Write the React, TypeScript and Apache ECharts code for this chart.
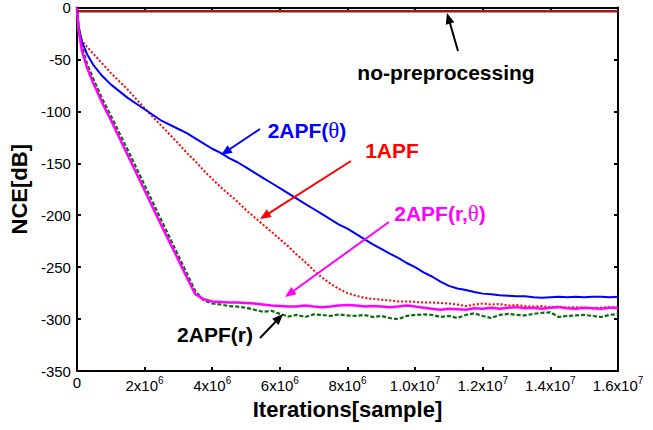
import React, { useEffect, useRef } from 'react';
import * as echarts from 'echarts';

// Iterations in units of 1e6 samples
const ITER_M = [
  0, 0.05, 0.15, 0.3, 0.5, 0.75, 1, 1.5, 2, 2.5, 3, 3.25, 3.5, 3.75,
  4, 4.25, 4.5, 4.75, 5, 5.25, 5.5, 5.75,
  6, 6.25, 6.5, 6.75, 7, 7.25, 7.5, 7.75,
  8, 8.25, 8.5, 8.75, 9, 9.25, 9.5, 9.75,
  10, 10.25, 10.5, 10.75, 11, 11.25, 11.5, 11.75,
  12, 12.25, 12.5, 12.75, 13, 13.25, 13.5, 13.75,
  14, 14.25, 14.5, 14.75, 15, 15.25, 15.5, 15.75,
  16,
];

const APF2_RT = [
  0, -22, -42, -58, -74, -92, -108, -142, -176, -210, -243, -260, -276, -281,
  -283, -283.5, -284, -284, -284.5, -285, -286, -287,
  -287.5, -288, -288, -287, -288, -288.5, -288, -287,
  -286.5, -287, -288, -287.5, -288, -288.5, -288, -287,
  -288, -289, -290, -291, -290, -290.5, -291, -289.5,
  -290, -289, -290, -289, -288.5, -289.5, -289, -290,
  -289, -288.5, -289.5, -290, -289, -289.5, -290, -289,
  -289,
];

const APF2_R = [
  0, -20, -38, -54, -70, -88, -104, -137, -171, -205, -239, -256, -273, -282,
  -285, -286, -287.5, -288, -289, -291, -293, -292,
  -295, -297.5, -296, -298, -295.5, -296, -297, -295.5,
  -296.5, -297, -296, -298, -297, -299, -300, -297,
  -296, -295.5, -296, -298, -297, -299, -296, -294.5,
  -297, -299, -296, -295, -296, -296.5, -295, -294,
  -293.5, -298, -297, -296.5, -296, -297, -298, -296,
  -295,
];

const APF1 = [
  0, -24, -32, -38, -45, -54, -63, -79, -97, -114, -131, -140, -148, -157,
  -165, -173, -180, -187, -195, -202, -209, -216,
  -223, -230, -238, -245, -253, -260, -266, -271,
  -275, -277.5, -279.5, -280.5, -281.5, -282, -283, -283,
  -283.5, -284, -284, -284.5, -285, -286, -287.5, -286,
  -285, -286, -285.5, -287, -286.5, -287.5, -288, -287.5,
  -288.5, -288, -289, -288.5, -289, -289.5, -289, -288.5,
  -289,
];

const APF2_T = [
  0, -18, -33, -45, -56, -66, -74, -87, -98, -109, -117, -121, -126, -131,
  -136, -140, -145, -149, -154, -159, -164, -169,
  -174, -179, -184, -189, -194, -199, -204, -209,
  -213, -218, -223, -228, -232.5, -237, -241, -246,
  -250, -255, -259, -264, -268, -270.5, -272, -274,
  -275.5, -276, -277, -277.5, -278, -278, -279, -279.5,
  -279, -278.5, -279, -278.5, -279, -278.5, -278.5, -279,
  -278.5,
];

const NOPRE_X = [0, 16];
const NOPRE = [-3.5, -3.5];

const Y_MIN = -350;
const Y_MAX = 0;

const FONT = 'Liberation Sans, Arial, sans-serif';

function pairs(xs: number[], ys: number[]) {
  return xs.map((x, i) => [x, ys[i]]);
}

function arrow(x1: number, y1: number, x2: number, y2: number, color: string) {
  const dx = x2 - x1;
  const dy = y2 - y1;
  const len = Math.sqrt(dx * dx + dy * dy);
  const ux = dx / len;
  const uy = dy / len;
  const hl = 11;
  const hw = 4.5;
  const bx = x2 - ux * hl;
  const by = y2 - uy * hl;
  return [
    {
      type: 'line',
      shape: { x1, y1, x2: bx + ux * 2, y2: by + uy * 2 },
      style: { stroke: color, lineWidth: 2 },
      z: 100,
    },
    {
      type: 'polygon',
      shape: {
        points: [
          [x2, y2],
          [bx - uy * hw, by + ux * hw],
          [bx + uy * hw, by - ux * hw],
        ],
      },
      style: { fill: color },
      z: 100,
    },
  ];
}

function label(x: number, y: number, rich: string, color: string) {
  return {
    type: 'text',
    x,
    y,
    z: 100,
    style: {
      text: rich,
      fill: color,
      align: 'center',
      verticalAlign: 'middle',
      font: `bold 21px ${FONT}`,
      rich: {
        a: { fontFamily: FONT, fontWeight: 'bold', fontSize: 21, fill: color },
        t: { fontFamily: 'Liberation Serif, serif', fontWeight: 'normal', fontSize: 23, fill: color },
      },
    },
  };
}

function xFmt(v: number) {
  if (v === 0) return '{b|0}';
  if (v < 10) return `{b|${v}x10}{s|6}`;
  return `{b|${(v / 10).toFixed(1)}x10}{s|7}`;
}

export default function App() {
  const ref = useRef<HTMLDivElement>(null);
  useEffect(() => {
    if (!ref.current) return;
    const chart = echarts.init(ref.current, null, { renderer: 'svg' });
    const axisLine = { show: true, onZero: false, lineStyle: { color: '#000', width: 2 } };
    const axisTick = { show: true, inside: true, length: 4, lineStyle: { color: '#000', width: 2 } };
    chart.setOption({
      animation: false,
      backgroundColor: '#fff',
      grid: { left: 76, right: 35, top: 6, bottom: 59, containLabel: false },
      xAxis: [
        {
          type: 'value',
          min: 0,
          max: 16,
          interval: 2,
          axisLine,
          axisTick,
          splitLine: { show: false },
          name: 'Iterations[sample]',
          nameLocation: 'middle',
          nameGap: 27,
          nameTextStyle: { fontFamily: FONT, fontWeight: 'bold', fontSize: 22, color: '#000' },
          axisLabel: {
            margin: 4,
            formatter: xFmt,
            fontFamily: FONT,
            fontSize: 15,
            color: '#000',
            rich: {
              b: { fontFamily: FONT, fontSize: 15, color: '#000', verticalAlign: 'bottom' },
              s: { fontFamily: FONT, fontSize: 10, color: '#000', verticalAlign: 'bottom', padding: [0, 0, 8, 0] },
            },
          },
        },
        {
          type: 'value',
          position: 'top',
          min: 0,
          max: 16,
          interval: 2,
          axisLine,
          axisTick,
          axisLabel: { show: false },
          splitLine: { show: false },
        },
      ],
      yAxis: [
        {
          type: 'value',
          min: Y_MIN,
          max: Y_MAX,
          interval: 50,
          axisLine,
          axisTick,
          splitLine: { show: false },
          name: 'NCE[dB]',
          nameLocation: 'middle',
          nameGap: 40,
          nameTextStyle: { fontFamily: FONT, fontWeight: 'bold', fontSize: 22, color: '#000' },
          axisLabel: { fontFamily: FONT, fontSize: 15, color: '#000', margin: 6 },
        },
        {
          type: 'value',
          position: 'right',
          min: Y_MIN,
          max: Y_MAX,
          interval: 50,
          axisLine,
          axisTick,
          axisLabel: { show: false },
          splitLine: { show: false },
        },
      ],
      series: [
        {
          name: '1APF',
          type: 'line',
          data: pairs(ITER_M, APF1),
          showSymbol: false,
          lineStyle: { color: '#ff0000', width: 2, type: [2, 2] },
        },
        {
          name: '2APF(θ)',
          type: 'line',
          data: pairs(ITER_M, APF2_T),
          showSymbol: false,
          lineStyle: { color: '#0000ff', width: 2 },
        },
        {
          name: '2APF(r)',
          type: 'line',
          data: pairs(ITER_M, APF2_R),
          showSymbol: false,
          lineStyle: { color: '#0b6b0b', width: 2.2, type: [4, 2] },
        },
        {
          name: '2APF(r,θ)',
          type: 'line',
          data: pairs(ITER_M, APF2_RT),
          showSymbol: false,
          lineStyle: { color: '#ff00ff', width: 2.5 },
        },
        {
          name: 'no-preprocessing',
          type: 'line',
          data: pairs(NOPRE_X, NOPRE),
          showSymbol: false,
          lineStyle: { color: '#a01818', width: 2.5 },
        },
      ],
      graphic: [
        label(446, 72, '{a|no-preprocessing}', '#000'),
        ...arrow(458, 51, 447, 13, '#000'),
        label(307, 130, '{a|2APF(}{t|θ}{a|)}', '#0000ff'),
        ...arrow(260, 129, 221, 155, '#0000ff'),
        label(392, 150, '{a|1APF}', '#ff0000'),
        ...arrow(351, 161, 260, 219, '#ff0000'),
        label(440, 213, '{a|2APF(r,}{t|θ}{a|)}', '#ff00ff'),
        ...arrow(389, 222, 285, 297, '#ff00ff'),
        label(215, 334, '{a|2APF(r)}', '#000'),
        ...arrow(260, 338, 283, 314, '#000'),
      ],
    });
    return () => chart.dispose();
  }, []);
  return <div ref={ref} style={{ position: 'absolute', left: 0, top: 0, width: 653, height: 430 }} />;
}
